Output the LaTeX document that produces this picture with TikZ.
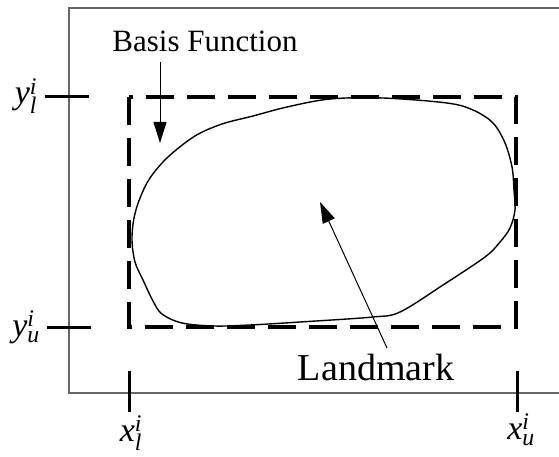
\documentclass[tikz,border=0pt]{standalone}
\usepackage{fontspec}
\setmainfont{Liberation Serif}
\usetikzlibrary{arrows.meta}
\begin{document}
\begin{tikzpicture}[x=1pt,y=-1pt,
  frame/.style={draw=black!60, line width=1.4pt},
  tick/.style={draw=black, line width=3pt},
  bbox/.style={draw=black, line width=3.3pt, dash pattern=on 28pt off 13pt},
  blob/.style={draw=black, line width=1.4pt},
  pointer/.style={draw=black, line width=1pt, -{Triangle[length=21pt,width=13pt]}},
  lab/.style={font=\fontsize{34}{34}\selectfont, anchor=base, inner sep=0pt},
  txt/.style={anchor=base, inner sep=0pt}]
\useasboundingbox (0,0) rectangle (559,457);
% frame
\coordinate (ftr) at (559,8);
\coordinate (ftl) at (69,8);
\coordinate (fbl) at (69,393);
\coordinate (fbr) at (559,393);
\draw[frame] (ftr) -- (ftl) -- (fbl) -- (fbr);
% dashed bounding box
\coordinate (rtl) at (129,97);
\coordinate (rbr) at (516,327);
\draw[bbox] (rtl) rectangle (rbr);
% ticks
\coordinate (ylA) at (45,97);  \coordinate (ylB) at (89,97);
\coordinate (yuA) at (47,327); \coordinate (yuB) at (91,327);
\coordinate (xlA) at (129,371); \coordinate (xlB) at (129,412);
\coordinate (xuA) at (517,371); \coordinate (xuB) at (517,412);
\draw[tick] (ylA) -- (ylB);
\draw[tick] (yuA) -- (yuB);
\draw[tick] (xlA) -- (xlB);
\draw[tick] (xuA) -- (xuB);
% labels
\node[lab] (yl) at (26,104) {$\mathit{y}^{\mathit{i}}_{\mathit{l}}$};
\node[lab] (yu) at (26,336) {$\mathit{y}^{\mathit{i}}_{\mathit{u}}$};
\node[lab] (xl) at (131,441) {$\mathit{x}^{\mathit{i}}_{\mathit{l}}$};
\node[lab] (xu) at (521,439) {$\mathit{x}^{\mathit{i}}_{\mathit{u}}$};
% landmark outline
\draw[blob] plot[smooth cycle, tension=0.55] coordinates {
 (143,280) (135,262) (132,240) (134,218) (140,198) (150,178) (168,157)
 (195,136) (222,124) (253,116) (287,107) (330,99) (383,98) (447,103)
 (473,110) (493,123) (505,143) (512,167) (514,190) (515,210) (510,228)
 (500,242) (485,257) (443,285) (400,312) (373,317) (300,322) (250,325)
 (214,326) (182,323) (162,314) (153,301)};
% texts
\node[txt, font=\fontsize{31}{31}\selectfont] (bf) at (205,52) {Basis Function};
\node[txt, font=\fontsize{38}{38}\selectfont] (lm) at (376,380) {Landmark};
% pointers
\coordinate (bfS) at (160,62);
\coordinate (bfT) at (160,143);
\draw[pointer] (bfS) -- (bfT);
\coordinate (lmS) at (387,348);
\coordinate (lmT) at (320,202);
\draw[pointer] (lmS) -- (lmT);
\end{tikzpicture}
\end{document}
